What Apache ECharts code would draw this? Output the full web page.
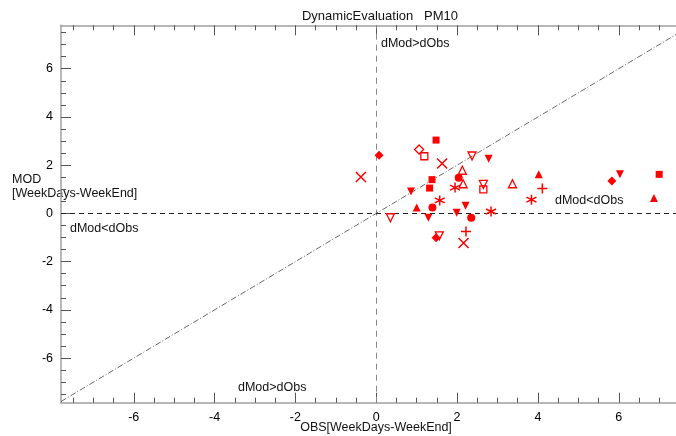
<!DOCTYPE html>
<html>
<head>
<meta charset="utf-8">
<script src="https://cdn.jsdelivr.net/npm/echarts@6/dist/echarts.min.js"></script>
<style>html,body{margin:0;padding:0;background:#fff;overflow:hidden}#c{width:700px;height:436px}</style>
</head>
<body>
<div id="c"></div>
<script>
// ---- data (OBS diff, MOD diff) ----
const filledSquare = [[1.48,3.04],[1.38,1.40],[1.32,1.05],[7.0,1.62]];
const openSquare = [[1.19,2.37],[2.65,1.0]];
const filledDiamond = [[0.07,2.41],[1.48,-1.01],[5.83,1.34]];
const openDiamond = [[1.06,2.65]];
const crossPts = [[-0.38,1.51],[1.63,2.07],[2.16,-1.23]];
const openDown = [[2.37,2.38],[0.35,-0.18],[1.56,-0.93],[2.65,1.2]];
const filledDown = [[2.78,2.27],[0.86,0.91],[1.29,-0.18],[1.99,0.03],[2.21,0.32],[6.03,1.62]];
const filledCircle = [[2.04,1.48],[1.39,0.24],[2.35,-0.18]];
const openUp = [[2.13,1.79],[2.15,1.23],[3.37,1.23]];
const filledUp = [[1.0,0.24],[4.02,1.62],[6.87,0.64]];
const asteriskPts = [[1.95,1.07],[1.57,0.54],[2.84,0.08],[3.84,0.57]];
const plusPts = [[2.22,-0.75],[4.11,1.03]];

const majorTicks = [-6,-4,-2,0,2,4,6];
const minorTicks = [-7.5,-7,-6.5,-5.5,-5,-4.5,-3.5,-3,-2.5,-1.5,-1,-0.5,0.5,1,1.5,2.5,3,3.5,4.5,5,5.5,6.5,7,7.5];
const xMin = -7.8, xMax = 7.8, yMin = -7.85, yMax = 7.8;

const RED = '#ff0000';
const FONT = "'Liberation Sans', Arial, sans-serif";
const FRAME = '#a0a0a0';
const TICK = '#555';

function axis(kind, pos, major, showLabel, showLine) {
  const isX = kind === 'x';
  return {
    type: 'value',
    position: pos,
    min: isX ? xMin : yMin,
    max: isX ? xMax : yMax,
    axisLine: {show: showLine, onZero: false, lineStyle: {color: FRAME, width: 1.5}},
    axisTick: {show: true, inside: true, length: major ? 10 : 5,
      customValues: major ? majorTicks : minorTicks,
      lineStyle: {color: TICK, width: 1}},
    axisLabel: {show: showLabel, customValues: majorTicks, color: '#000',
      fontFamily: FONT, fontSize: 12.5, margin: 8},
    splitLine: {show: false}
  };
}

function sc(name, data, opts) {
  const o = Object.assign({
    name: name, type: 'scatter', data: data, xAxisIndex: 0, yAxisIndex: 0,
    symbolSize: 8, z: 5
  }, opts);
  o.itemStyle = Object.assign({color: RED, opacity: 1}, opts.itemStyle || {});
  return o;
}
const openStyle = {color: 'none', borderColor: RED, borderWidth: 1.3};
const strokeStyle = {color: 'none', borderColor: RED, borderWidth: 1.5};

const option = {
  animation: false,
  backgroundColor: '#fff',
  title: {text: 'DynamicEvaluation   PM10', left: 375, top: 5, textAlign: 'center',
    textStyle: {fontFamily: FONT, fontSize: 13, fontWeight: 'normal', color: '#111'}},
  grid: {left: 61, right: 8.5, top: 25.3, bottom: 33.3},
  xAxis: [
    axis('x', 'bottom', true, true, true),
    axis('x', 'bottom', false, false, false),
    axis('x', 'top', true, false, true),
    axis('x', 'top', false, false, false)
  ],
  yAxis: [
    axis('y', 'left', true, true, true),
    axis('y', 'left', false, false, false),
    axis('y', 'right', true, false, true),
    axis('y', 'right', false, false, false)
  ],
  graphic: [
    {type: 'text', x: 12, y: 173, style: {text: 'MOD\n[WeekDays-WeekEnd]', fontFamily: FONT, fontSize: 12.5, lineHeight: 14, fill: '#111'}},
    {type: 'text', x: 376, y: 421, style: {text: 'OBS[WeekDays-WeekEnd]', fontFamily: FONT, fontSize: 12.5, fill: '#111', align: 'center'}},
    {type: 'text', x: 381, y: 37, style: {text: 'dMod>dObs', fontFamily: FONT, fontSize: 12.5, fill: '#111'}},
    {type: 'text', x: 70, y: 222, style: {text: 'dMod<dObs', fontFamily: FONT, fontSize: 12.5, fill: '#111'}},
    {type: 'text', x: 555, y: 194, style: {text: 'dMod<dObs', fontFamily: FONT, fontSize: 12.5, fill: '#111'}},
    {type: 'text', x: 238, y: 381, style: {text: 'dMod>dObs', fontFamily: FONT, fontSize: 12.5, fill: '#111'}}
  ],
  series: [
    {type: 'line', data: [[Math.max(xMin, yMin), Math.max(xMin, yMin)], [Math.min(xMax, yMax), Math.min(xMax, yMax)]],
      symbol: 'none', silent: true, z: 2,
      lineStyle: {color: '#444', width: 0.8, type: [6, 2, 1, 2]},
      markLine: {silent: true, symbol: 'none', label: {show: false},
        data: [
          {xAxis: 0, lineStyle: {color: '#888', width: 1, type: [6, 5]}},
          {yAxis: 0, lineStyle: {color: '#222', width: 1, type: [5, 4]}}
        ]}},
    sc('filledSquare', filledSquare, {symbol: 'rect', symbolSize: 7}),
    sc('openSquare', openSquare, {symbol: 'rect', symbolSize: 7, itemStyle: openStyle}),
    sc('filledDiamond', filledDiamond, {symbol: 'diamond', symbolSize: 9}),
    sc('openDiamond', openDiamond, {symbol: 'diamond', symbolSize: 9, itemStyle: openStyle}),
    sc('cross', crossPts, {symbol: 'path://M0,0L10,10M10,0L0,10', symbolSize: 10, itemStyle: strokeStyle}),
    sc('openDown', openDown, {symbol: 'triangle', symbolRotate: 180, symbolSize: 8, itemStyle: openStyle}),
    sc('filledDown', filledDown, {symbol: 'triangle', symbolRotate: 180, symbolSize: 8}),
    sc('filledCircle', filledCircle, {symbol: 'circle', symbolSize: 8}),
    sc('openUp', openUp, {symbol: 'triangle', symbolSize: 8, itemStyle: openStyle}),
    sc('filledUp', filledUp, {symbol: 'triangle', symbolSize: 8}),
    sc('asterisk', asteriskPts, {symbol: 'path://M5,0L5,10M0,2.5L10,7.5M0,7.5L10,2.5', symbolSize: 10, itemStyle: strokeStyle}),
    sc('plus', plusPts, {symbol: 'path://M5,0L5,10M0,5L10,5', symbolSize: 10, itemStyle: strokeStyle})
  ]
};
const chart = echarts.init(document.getElementById('c'), null, {renderer: 'canvas'});
chart.setOption(option);
</script>
</body>
</html>
